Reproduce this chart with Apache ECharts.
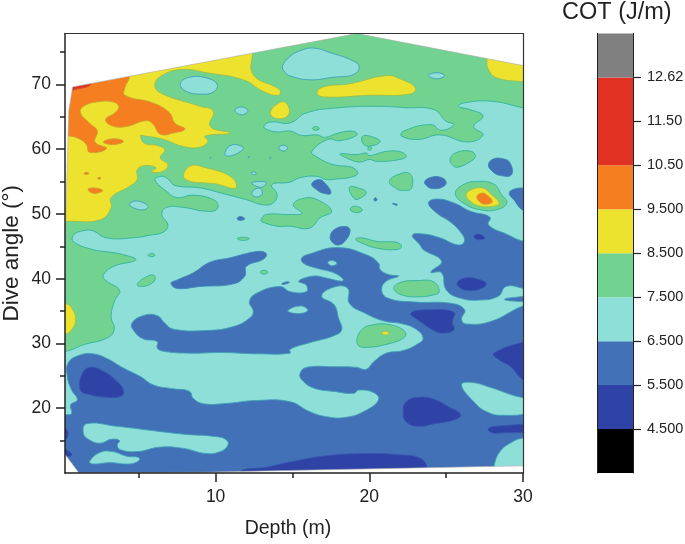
<!DOCTYPE html>
<html><head><meta charset="utf-8">
<style>html,body{margin:0;padding:0;background:#fff}#c{width:685px;height:544px}</style>
<script src="https://cdn.jsdelivr.net/npm/echarts@6/dist/echarts.min.js"></script>
</head><body><div id="c"></div>
<script>
// Contour outlines, all in data units [depth m, dive angle deg]
const tealMain=[[.2,19],[.63,19.2],[.56,20.5],[1,21.3],[.63,22.8],[.35,24.9],[.41,27],[1.17,28.2],[2,28.4],[2.9,27.7],[4,26.2],[5.1,24.9],[5.95,23.6],[7.25,23],[8.3,22.6],[8.55,21.5],[9.2,20.7],[10.5,20.7],[12.7,21.2],[14.84,21],[16.1,19.5],[17.2,18.7],[18.5,18.6],[19.8,19.7],[20.6,21.3],[20.3,22.4],[19.3,22.8],[19,22.3],[17.7,22.6],[16.4,23.1],[15.6,24.4],[15.5,25.4],[15.9,26.3],[17.7,26.4],[19.2,26.3],[19.8,26],[20.3,27.2],[21.1,28.5],[22.2,28.9],[23.2,30],[23.5,30.8],[23.1,32.1],[22.2,33],[20.9,33.5],[19.7,34.7],[18.7,36.2],[18.6,38.5],[17.7,38.7],[16.9,37.3],[17.7,36],[18,33.9],[18.2,32.1],[17.7,31.2],[16.1,30.1],[14.84,29.1],[14.84,28.5],[12.7,28.4],[10.5,28.6],[8.3,28.5],[6.6,28.8],[6.2,29.3],[6.2,30.3],[5.3,30.7],[4.7,31.9],[4.55,33.1],[5.3,34.3],[6.2,34.3],[6.7,33.1],[7.25,32.2],[9.4,32],[11.15,32.6],[12.2,33.9],[12.45,34.9],[12.2,36.5],[12.7,37.8],[14.2,38.8],[14.84,38],[15.9,38],[15.9,39],[15.4,39.6],[16.4,40.4],[17.2,40.1],[18.2,39.6],[18.3,39.9],[17.7,40.9],[16.6,41.6],[15.7,42.4],[15.6,43.2],[16.1,43.8],[17.9,44.8],[19.8,43.7],[20.6,42.4],[20.7,41.4],[21.3,40.6],[21.9,40.4],[21.1,39.6],[20.8,38.3],[21.2,37],[22.9,36.4],[25.3,36.2],[26.2,35.2],[26,33.7],[26.3,33],[27.9,33.4],[30,35.8],[31,36.2],[28.8,36.8],[31,37.7],[30,38.5],[28.9,38.8],[28.4,37.3],[27.2,36.7],[25.9,37],[25,38.3],[24.7,40.9],[24,41],[24.7,42.7],[23.5,44.5],[23.3,45.2],[22.8,46.7],[23.5,46.9],[24.6,46.3],[25.8,45.2],[26.2,45.8],[25.9,47.3],[25.25,48.8],[24.4,50.1],[23.85,51.7],[24.4,52.3],[25.5,51.7],[26.6,50.4],[27.85,49.5],[27.75,48.3],[29,46.8],[30,45.8],[31,45.5],[31,80],[-1,80],[-1,19]];
const tealStripe=[[1.6,17.6],[3.6,17.2],[5.7,16.6],[7.9,16],[10.1,15.6],[10.7,15.1],[10.8,14.3],[10.3,13.3],[9.4,13],[7.9,13.8],[6.4,14],[4.9,13.3],[3.8,13.6],[3.6,14.3],[3.75,15],[3.2,15.2],[2.5,14.6],[1.8,15.1],[1.4,16.1]];
const tealLow=[[1.8,11.8],[2.5,13.2],[3.3,13.3],[4.2,12.6],[5,12.4],[5,11.9],[4.4,11.4],[3.1,11.6],[2,11.4]];
const tealRightLobe=[[26,23.6],[26.6,24],[27.9,23.2],[29.2,22.1],[30.5,21],[30.5,19.5],[28.7,18.9],[27.6,19.5],[26.8,21]];
const tealCorner=[[28.1,10],[28.1,11],[28.5,13.3],[29.3,14.8],[30,15.4],[31,15.6],[31,10]];
const tealDotA=[[14.7,35.1],[15.5,35.8],[16,35.2],[15.7,34.7],[15,34.7]];
const tealDotB=[[17.3,42.5],[17.55,42.8],[17.9,42.4],[17.55,42]];
const blueMid=[[7.1,39.3],[7.5,39.8],[8.55,40.9],[9.6,42.5],[10.9,43.2],[12.75,44.2],[13.3,43.85],[13.1,43],[12,41.9],[11.9,40.4],[11.15,39.2],[9,38.8],[7.5,38.5]];
const blueSmalls=[
 [[14.3,39.2],[14.6,39.5],[14.8,39.4],[14.4,39.1]],
 [[16.25,54.6],[16.7,55.3],[17.1,54.8],[17.5,53.2],[17,53.2],[16.6,53.7]],
 [[23.6,55],[24.1,55.7],[24.7,55.6],[25,54.9],[24.8,54.2],[24.2,53.9],[23.8,54.2]],
 [[27.75,57.6],[28.1,58.5],[28.7,58.5],[29.15,57.9],[29.25,56.05],[28.5,55.95],[28,56.6]],
 [[29.1,53.2],[29.4,53.8],[30,54],[31,54],[31,50.4],[30,50.6],[29.4,52.2]],
 [[17.45,46.5],[17.8,47.7],[18.55,48],[18.75,47.3],[18.4,45.75],[18,45.2],[17.65,45.5]],
 [[11.4,49.25],[11.6,49.6],[11.9,49.25],[11.6,49]],
 [[20.3,52.2],[20.4,52.5],[20.5,52.2],[20.4,52]],
 [[21.5,51.6],[21.8,51.5],[21.8,51.3]]
];
const darkBlues=[
 [[1.3,25.2],[1.8,26.3],[2.7,25.7],[3.6,24.1],[4,22.8],[3.9,21.9],[2.9,21.7],[1.8,22.1],[1.2,22.8]],
 [[-.3,17],[.2,16.9],[.4,16.1],[.2,15.1],[-.3,15]],
 [[-.3,14.2],[.2,13.7],[.65,12.8],[.2,12.5],[-.3,12.5]],
 [[11.7,10.4],[13.3,10.9],[14.84,11.7],[17,12.6],[19.8,13],[22,12.8],[23.3,12.3],[23.74,11],[23.74,9.5],[11.7,9.5]],
 [[22.2,19.5],[22.4,21],[23.2,21.7],[24.2,21.4],[25.1,20.3],[25.95,19],[25.5,18.2],[24.2,17.6],[23.2,17.2],[22.4,17.9]],
 [[27.75,16.9],[28.7,17.3],[31,17.4],[31,16.5],[28.7,16.2],[28,16.2]],
 [[28.1,28.5],[30,30.2],[31,30.4],[31,23.6],[30,24.4],[29.2,26.4],[28.3,27.7]],
 [[22.7,34.7],[24,35.2],[25.5,34.8],[25.4,33.3],[25.5,32.1],[24.8,31.6],[24.2,32],[23.3,33.4]],
 [[25.7,39.3],[26.2,40.1],[27.1,39.9],[27.6,39.2],[27.2,38.4],[26.3,38.2],[25.9,38.6]],
 [[26.8,46.5],[27.1,46.9],[27.5,46.3],[27.1,46]]
];
const greenMain=[[.26,28.8],[1.4,29.8],[2.9,30.8],[3.4,32.1],[3.2,34.2],[3.45,36.7],[3.75,38.2],[2.8,39.8],[2.7,40.6],[3.35,41.9],[4.8,42.9],[4,43.7],[3.1,44.1],[2,44.5],[.74,45.75],[.78,46.8],[1.4,47.4],[2,47.4],[2.9,46.3],[4.6,46.3],[5.7,46.7],[6.6,47.2],[6.9,48.3],[6.5,49.9],[6.8,51],[7.9,51],[9.4,50.4],[10.1,50.75],[10,52],[8.55,52.9],[7.5,52.5],[6.8,53.5],[6.05,55.3],[6.5,55.8],[6.9,55.4],[7.35,54.4],[9,54],[10.7,53],[12,52.2],[13.1,51.4],[13.75,51.7],[14,53],[13.65,54.5],[14.84,54.9],[15.5,55.6],[16.6,55.8],[17.2,55.3],[17.9,55.4],[18.85,55.7],[19.25,56.3],[18.85,57.2],[17.66,57.6],[16.5,58.9],[16.25,59.6],[17.3,61.5],[18.1,61.3],[19.2,62.2],[18.96,62.75],[18,62.5],[17.1,61.8],[16.6,62.2],[15.6,62.1],[14.84,62.8],[14,62.65],[13.2,63.2],[13.2,63.8],[13.7,64.2],[14.84,64.04],[15.9,65.6],[18.1,66.4],[20.5,66.6],[22.4,66.4],[24.2,66.1],[25,64.3],[25.5,63.8],[24.7,62.9],[24,63.8],[22.2,62.75],[22.1,62],[23.2,61.5],[24.6,62.2],[26.4,61.1],[27.4,62.2],[26.8,63.5],[27.4,65.1],[26.55,66.1],[25.8,66.6],[26.1,67.1],[27.9,67.4],[30,66.4],[31,66],[31,80],[-1,80],[-1,28.8]];
const greenBlobs=[
 [[19.2,30.1],[19.5,32.1],[20.3,32.9],[21.35,32.9],[22.3,31.9],[22.3,31],[21.35,30],[19.6,29.4]],
 [[21.6,38.5],[22,39.4],[23.1,39.7],[24.2,39.5],[24.55,38],[24.2,37.5],[23.1,37.2],[22.1,37.5]],
 [[4.9,39.1],[5.5,40.3],[6,40.5],[6,39.6],[5.3,38.8]],
 [[12.9,41],[13.15,41.3],[13.4,41],[13.15,40.7]],
 [[5.6,43.6],[5.85,43.9],[6.05,43.6],[5.85,43.4]],
 [[16.3,63.2],[16.5,63.5],[16.75,63.2],[16.5,62.9]],
 [[19.5,61.7],[19.7,62.1],[20.3,61.8],[20.7,61.2],[20.3,60.6],[19.7,60.6]],
 [[19.9,60.2],[20.05,60.4],[20.15,60.1],[20,59.8]],
 [[18.1,59.25],[19.2,59.15],[19.8,59.4],[20,59],[21.1,59.65],[22,59.6],[22.4,58.9],[22,58.4],[20.5,58.1],[20,58.4],[19.4,58],[18.75,58.4]],
 [[25.25,58.4],[25.6,59.4],[26.55,59.7],[26.9,58.9],[26.45,57.9],[25.7,57.2],[25.4,57.6]],
 [[21.3,55],[21.8,56],[22.65,56.2],[22.75,54],[22.2,53.6],[21.7,54]],
 [[18.7,54.1],[19.3,54],[19.8,53.3],[19.3,52.3],[19,52.4]],
 [[18.75,50.75],[19.1,51.2],[19.55,50.6],[19.1,50.2]],
 [[12.95,49.1],[13.3,49.9],[14.84,49.9],[15.6,50.1],[15.05,51.4],[15.7,52.4],[16.6,52.2],[17.55,50.4],[16.8,49.4],[16.1,47.8],[14.84,48.1],[14,48.1],[13,48.8]],
 [[11.4,46.2],[11.8,46.4],[12.2,46.2],[11.8,45.9]],
 [[19.1,46.1],[19.5,46.3],[20.5,45.75],[21.8,45.6],[22.1,45],[21.8,44.5],[20.5,44.7],[19.5,45.5]],
 [[25.6,53.2],[26.1,54.5],[27,55],[28.1,54.6],[28.6,53],[28.95,51.7],[28.3,50.65],[27.2,50.65],[26.1,51.7]]
];
const tealInGreen=[
 [[14.35,72.8],[14.84,74.3],[15.5,75.2],[16.36,75.6],[17.45,74.9],[18.96,73.6],[19.35,72.65],[18.96,71.5],[17.66,71.1],[16.14,70.7],[14.84,71.3],[14.5,71.9]],
 [[23.85,71.35],[24.4,71.8],[24.9,71.35],[24.4,70.85]],
 [[7.7,70.1],[8.3,71.1],[9.4,71],[10.1,70],[9.85,68.8],[9,68.5],[8.1,68.9]],
 [[11.25,65.95],[11.65,66.5],[12.1,65.95],[11.7,65.3]],
 [[10.6,59.15],[11,60.6],[11.8,60.3],[11.7,59.8],[11.05,59]],
 [[14.1,60.2],[14.4,60.6],[14.7,60.2],[14.4,59.7]],
 [[12.3,56.3],[12.5,56.5],[12.65,56.2],[12.45,56.05]],
 [[12.35,54.8],[13.3,54.9],[12.95,54.1]],
 [[12.35,53.2],[12.8,54],[13.05,53.2],[12.65,52.6]],
 [[4.4,51.4],[4.85,52],[5.6,51.2],[5.2,50.6]],
 [[-.2,53.2],[.4,53.3],[.85,53],[.4,52.6],[-.2,52.6]],
 [[-.2,60.5],[.5,60.4],[.8,59.9],[.5,59.1],[-.2,59]],
 [[4.55,62.75],[5,63.3],[5.3,62.75],[5.25,62.2],[4.75,62.2]],
 [[9.62,58.7],[9.72,58.7],[9.67,58.55]],
 [[12.1,58.8],[12.22,58.8],[12.16,58.65]],
 [[13.5,58.7],[13.62,58.7],[13.56,58.55]]
];
const yellowMain=[[.4,48.85],[2.5,49.1],[3.2,50.9],[3.2,52.5],[4.4,54.25],[4.9,55.3],[4.9,56.8],[5.4,57.45],[6.15,57.1],[5.8,56.6],[6.5,56.5],[6.9,57.6],[6.4,58.65],[6.7,59.9],[6.15,60.6],[5.4,60.85],[5.1,62],[5.2,62.1],[6.6,61.5],[7.9,60.4],[9,60.3],[9.5,61.2],[9.3,62],[10.95,62.5],[9.65,63.5],[9.85,65.85],[9,66.6],[6.4,68.7],[6.05,70],[6.6,71.5],[7.9,72.3],[9.4,71.8],[11.8,70.7],[13.1,68.9],[14.1,68.3],[14.15,69.2],[12.45,71.5],[12.4,74.9],[12.4,80],[-1,80],[-1,48.85]];
const yellowBlobs=[
 [[8.3,57.35],[9.4,57.1],[11.05,55.65],[11.3,54],[10.05,54.6],[8,55.4]],
 [[13.55,65.6],[14.1,67.1],[14.6,67.1],[14.75,65.3],[14,64.7]],
 [[16.6,68.7],[17,69.6],[18.75,70.1],[21.1,71.35],[22,70.85],[23,69.45],[22.65,68.5],[20,68.3],[17,68.05]],
 [[27.65,78],[27.65,73.8],[27.75,72.3],[28.3,71],[30,70.4],[31,70.2],[31,78]],
 [[-.5,36.4],[.2,36.2],[.63,35.5],[.9,33.65],[.63,32.1],[.2,31.4],[-.5,31.2]],
 [[20.8,31.6],[21.05,31.9],[21.3,31.6],[21.05,31.3]],
 [[26.3,53],[26.7,53.8],[27.4,54],[27.85,53.2],[28.45,51.7],[28.1,51.2],[27.2,51.2],[26.55,52]]
];
const orangeMain=[[-1,62],[.57,62],[1.2,61.5],[1.6,60.7],[1.8,59.5],[2.9,60.1],[2.15,61.1],[2.3,62.8],[1.8,64],[1.2,65.6],[1.4,66.6],[2.3,67.3],[3.3,67.3],[3.7,66.6],[3.45,65.6],[2.85,64.6],[3.25,63.6],[4.2,63.5],[5.5,64.4],[5.95,63.8],[6.4,62.3],[7.25,62.5],[8,63.1],[7.35,64],[7,65.6],[5.95,67.1],[4.1,68.3],[4.1,69.5],[4.4,71.25],[4.4,78],[-1,78]];
const orangeBlobs=[
 [[2.7,61.1],[3.35,61.6],[4,61.2],[3.35,60.7]],
 [[1.7,53.8],[2.15,54],[2.65,53.6],[2.25,53.2],[1.9,53.3]],
 [[1.45,56.3],[1.7,56.4],[1.75,56.2],[1.5,56.1]],
 [[2.35,55.6],[2.5,55.6],[2.5,55.4],[2.35,55.4]],
 [[27,52.7],[27.3,53.2],[27.6,53],[28,51.9],[27.6,51.5],[27.2,51.8]]
];
const redCorner=[[0.4,69],[.85,69.2],[1.9,70],[2,71.5],[.4,71.5]];
const outsideTop=[[-1,80],[31,80],[31,72.9],[30,72.9],[19.2,77.85],[.7,69.6],[.45,66],[.3,54],[.2,45],[-1,45]];
const outsideBottom=[[-1,9],[31,9],[31,11.1],[30,11.1],[14.8,10.4],[9,10.1],[1.1,10.05],[.2,12.9],[-1,12.9]];
const baseBlue=[[-1,9],[31,9],[31,80],[-1,80]];
// axes and colour scale
const xMajor=[10,20,30], xMinor=[5,15,25];
const yMajor=[20,30,40,50,60,70], yMinor=[15,25,35,45,55,65,75];
const scaleLabels=['4.500','5.500','6.500','7.500','8.500','9.500','10.50','11.50','12.62'];
const scaleSteps=[1,1,1,1,1,1,1,2,1];
const scaleColors=['#000000','#2F43A6','#4271B7','#8FDFD9','#71D38F','#EDE22D','#F57F20','#E03122','#808080'];

const C={dark:'#2F43A6',blue:'#4271B7',teal:'#8FDFD9',green:'#71D38F',yellow:'#EDE22D',orange:'#F57F20',red:'#E03122'};
const S={dark:'#3557AE',blue:'#3D86B5',teal:'#3F9FB8',green:'#33B29C',yellow:'#96BE55',orange:'#C9A030',red:'#C9502A'};
const shapes=[];
function add(list,key){list.forEach(p=>shapes.push({p,key}))}
add([baseBlue],'blue');
add([tealMain,tealStripe,tealLow,tealRightLobe,tealCorner,tealDotA,tealDotB],'teal');
add([blueMid,...blueSmalls],'blue');
add(darkBlues,'dark');
add([greenMain,...greenBlobs],'green');
add(tealInGreen,'teal');
add([yellowMain,...yellowBlobs],'yellow');
add([orangeMain,...orangeBlobs],'orange');
add([redCorner],'red');
[outsideTop,outsideBottom].forEach(p=>shapes.push({p,key:null}));

const FONT='"Liberation Sans",Arial,sans-serif';
const chart=echarts.init(document.getElementById('c'));
const line={show:true,onZero:false,lineStyle:{color:'#222',width:1.5}};
const off={show:false};
chart.setOption({
 animation:false,
 title:{text:'COT (J/m)',left:562,top:1,padding:0,textStyle:{fontFamily:FONT,fontWeight:'normal',fontSize:23.5,color:'#222'}},
 grid:[{left:65,width:458,top:33.5,height:439.5,outerBoundsMode:'none'},{left:597,width:36,top:33.5,height:439.5,outerBoundsMode:'none'}],
 xAxis:[
  {type:'value',gridIndex:0,min:.2,max:30,position:'bottom',z:10,axisLine:line,splitLine:off,
   axisTick:{show:true,length:9,customValues:xMajor,lineStyle:{color:'#222',width:1.5}},
   axisLabel:{show:true,customValues:xMajor,margin:15,fontFamily:FONT,fontSize:17.5,color:'#222',showMinLabel:true,showMaxLabel:true},
   name:'Depth (m)',nameLocation:'middle',nameGap:46,nameMoveOverlap:false,nameTextStyle:{fontFamily:FONT,fontSize:19.5,color:'#222',padding:[0,12,0,0]}},
  {type:'value',gridIndex:0,min:.2,max:30,position:'bottom',z:10,axisLine:off,splitLine:off,axisLabel:off,
   axisTick:{show:true,length:5,customValues:xMinor,lineStyle:{color:'#222',width:1.5}}},
  {type:'value',gridIndex:0,min:.2,max:30,position:'top',z:10,axisLine:{show:true,onZero:false,lineStyle:{color:'#333',width:1.2}},splitLine:off,axisLabel:off,axisTick:off},
  {type:'category',gridIndex:1,data:['COT'],position:'bottom',axisLine:off,axisTick:off,axisLabel:off,splitLine:off}
 ],
 yAxis:[
  {type:'value',gridIndex:0,min:10,max:77.85,position:'left',z:10,axisLine:line,splitLine:off,
   axisTick:{show:true,length:9,customValues:yMajor,lineStyle:{color:'#222',width:1.5}},
   axisLabel:{show:true,customValues:yMajor,margin:14,fontFamily:FONT,fontSize:17.5,color:'#222'},
   name:'Dive angle (°)',nameLocation:'middle',nameGap:42,nameMoveOverlap:false,nameTextStyle:{fontFamily:FONT,fontSize:22.5,color:'#222'}},
  {type:'value',gridIndex:0,min:10,max:77.85,position:'left',z:10,axisLine:off,splitLine:off,axisLabel:off,
   axisTick:{show:true,length:5,customValues:yMinor,lineStyle:{color:'#222',width:1.5}}},
  {type:'value',gridIndex:0,min:10,max:77.85,position:'right',z:10,axisLine:{show:true,onZero:false,lineStyle:{color:'#333',width:1.2}},splitLine:off,axisLabel:off,axisTick:off},
  {type:'value',gridIndex:1,min:0,max:10,position:'right',z:10,
   axisLine:{show:true,onZero:false,lineStyle:{color:'#222',width:1}},splitLine:off,
   axisTick:{show:true,length:8,customValues:[1,2,3,4,5,6,7,8,9],lineStyle:{color:'#222',width:1.2}},
   axisLabel:{show:true,customValues:[1,2,3,4,5,6,7,8,9],margin:14,fontFamily:FONT,fontSize:14.5,color:'#222',formatter:v=>scaleLabels[v-1]||''}},
  {type:'value',gridIndex:1,min:0,max:10,position:'left',z:10,axisLine:{show:true,onZero:false,lineStyle:{color:'#222',width:1}},splitLine:off,axisLabel:off,axisTick:off}
 ],
 series:[
  {type:'custom',coordinateSystem:'cartesian2d',xAxisIndex:0,yAxisIndex:0,clip:true,silent:true,z:2,
   data:shapes.map((s,i)=>[i]),
   renderItem:(params,api)=>{
    const s=shapes[params.dataIndex];
    const points=s.p.map(q=>api.coord(q));
    if(!s.key) return {type:'polygon',shape:{points},style:{fill:'#fff',stroke:'#aaa',lineWidth:.6}};
    return {type:'polygon',shape:{points,smooth:.45},style:{fill:C[s.key],stroke:S[s.key],lineWidth:.9}};
   }},
  ...scaleColors.map((c,i)=>({type:'bar',xAxisIndex:3,yAxisIndex:3,stack:'scale',barWidth:'100%',silent:true,
    itemStyle:{color:c},data:[scaleSteps[i]]}))
 ]
});
</script></body></html>
